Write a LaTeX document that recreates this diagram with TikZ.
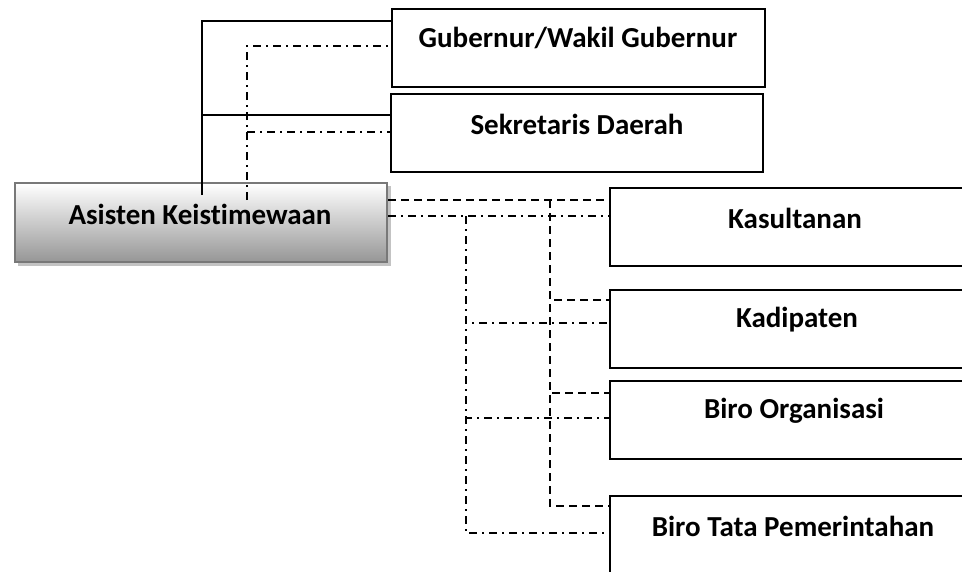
\documentclass[tikz,border=0pt]{standalone}
\usepackage{fontspec}
\setmainfont[RawFeature=-liga]{Carlito}
\usetikzlibrary{calc}
\definecolor{shade}{RGB}{150,150,150}
\definecolor{rim}{RGB}{120,120,120}
\definecolor{drop}{RGB}{195,195,195}
\definecolor{softdrop}{RGB}{215,215,215}
\begin{document}
\begin{tikzpicture}[x=1pt,y=-1pt,
  box/.style={draw=black,line width=2pt,fill=white,anchor=north west,inner sep=0pt,
    minimum width=#1},
  box/.default=373,
  lbl/.style={font=\fontsize{29}{34}\selectfont\bfseries,inner sep=0pt},
  solidln/.style={line width=1.5pt},
  dashln/.style={line width=1.5pt,dash pattern=on 8pt off 5pt},
  dotdashln/.style={line width=1.5pt,dash pattern=on 8pt off 5pt on 2pt off 5pt}]
\clip (0,0) rectangle (962,571);
\fill[white] (0,0) rectangle (962,571);

% upper boxes
\fill[softdrop] (393,10) rectangle (766,88);
\node[box=373,minimum height=78pt] (gub) at (391,8) {};
\fill[softdrop] (392,95) rectangle (764,173);
\node[box=372,minimum height=78pt] (sek) at (390,93) {};

% shaded box on the left
\fill[drop] (18,186) rectangle (391,266);
\node[anchor=north west,inner sep=0pt,minimum width=372pt,minimum height=79pt,
  draw=rim,line width=2pt,top color=white,bottom color=shade] (asis) at (14,182) {};

% boxes on the right
\node[box=420,minimum height=78pt] (kas) at (609,187) {};
\node[box=420,minimum height=78pt] (kad) at (609,289) {};
\node[box=420,minimum height=78pt] (org) at (609,380) {};
\node[box=420,minimum height=110pt] (tata) at (609,495) {};

% labels
\node[lbl] (gubt) at (578,38) {Gubernur/Wakil Gubernur};
\node[lbl] (sekt) at (577,124) {Sekretaris Daerah};
\node[lbl] (asist) at (200,214) {Asisten Keistimewaan};
\node[lbl] (kast) at (795,218) {Kasultanan};
\node[lbl] (kadt) at (797,320) {Kadipaten};
\node[lbl] (orgt) at (794,411) {Biro Organisasi};
\node[lbl] (tatat) at (793,526) {Biro Tata Pemerintahan};

% upward links from the left box
\coordinate (up1) at (202,195);
\coordinate (up2) at (247,200);
\draw[solidln] (up1) |- ($(gub.north west)+(0,13)$);
\draw[solidln] ($(up1|-sek.north west)+(0,22)$) -- ($(sek.north west)+(0,22)$);
\draw[dotdashln] (up2) |- ($(gub.north west)+(0,38)$);
\draw[dotdashln] ($(up2|-sek.north west)+(0,39)$) -- ($(sek.north west)+(0,39)$);

% dashed links to the right
\coordinate (dv) at (550,200);
\draw[dashln] ($(asis.north east)+(0,18)$) -- ($(kas.north west)+(0,13)$);
\draw[dashln] (dv) |- ($(kad.north west)+(0,11)$);
\draw[dashln] (dv) |- ($(org.north west)+(0,13)$);
\draw[dashln] (dv) |- ($(tata.north west)+(0,11)$);

% dash-dotted links to the right
\coordinate (cv) at (466,216);
\draw[dotdashln] ($(asis.north east)+(0,34)$) -- ($(kas.north west)+(0,29)$);
\draw[dotdashln] (cv) |- ($(kad.north west)+(0,34)$);
\draw[dotdashln] (cv) |- ($(org.north west)+(0,38)$);
\draw[dotdashln] (cv) |- ($(tata.north west)+(0,38)$);
\end{tikzpicture}
\end{document}
